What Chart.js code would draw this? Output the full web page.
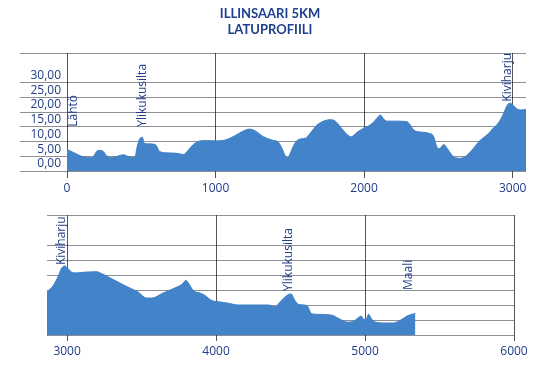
<!DOCTYPE html>
<html><head><meta charset="utf-8">
<script src="https://cdn.jsdelivr.net/npm/chart.js@4/dist/chart.umd.min.js"></script>
<style>
html,body{margin:0;padding:0;background:#fff;width:540px;height:379px;overflow:hidden}
#title{position:absolute;left:0;top:5px;width:540px;text-align:center;font:bold 13px Lato,"Open Sans",sans-serif;color:#1d3f8f;line-height:16px;z-index:2}
#c1{position:absolute;left:0;top:0}
#c2{position:absolute;left:0;top:200px}
</style></head><body>
<div id="title">ILLINSAARI 5KM<br>LATUPROFIILI</div>
<canvas id="c1" width="540" height="200" style="width:540px;height:200px"></canvas>
<canvas id="c2" width="540" height="179" style="width:540px;height:179px"></canvas>
<script>
// Distance along the track (m) and elevation (m)
const distance = [0,43,110,166,211,240,267,301,346,380,413,458,470,492,508,519,548,593,627,694,739,784,817,851,896,941,1009,1065,1132,1188,1229,1267,1323,1379,1424,1447,1469,1485,1503,1525,1559,1604,1637,1683,1727,1772,1806,1840,1885,1914,1952,1997,2035,2060,2087,2109,2132,2154,2222,2289,2311,2334,2367,2435,2469,2485,2502,2520,2536,2559,2588,2614,2648,2677,2727,2772,2839,2870,2900,2935,2965,2985,3005,3030,3060,3108,3198,3231,3309,3399,3477,3534,3567,3645,3724,3769,3798,3813,3847,3892,3925,3971,4027,4080,4150,4284,4352,4397,4431,4475,4504,4527,4554,4610,4639,4677,4778,4823,4879,4924,4953,4975,4991,5007,5024,5042,5069,5136,5192,5237,5282,5315,5338];
const elevation = [7.3,6.3,4.8,4.5,7.0,6.8,5.2,4.6,5.1,5.5,4.9,4.6,7.7,11.1,11.4,9.4,9.2,9.0,6.5,6.1,6.0,5.6,7.1,9.0,10.2,10.3,10.2,10.5,12.0,13.6,14.2,13.6,11.6,10.5,9.7,7.7,5.2,4.5,6.0,8.6,10.7,11.1,12.8,15.6,16.9,17.4,16.9,15.0,12.4,11.6,13.1,14.5,15.4,16.4,17.9,19.0,17.6,16.9,16.9,16.7,15.6,13.9,13.3,12.8,11.6,8.8,7.5,8.2,9.0,7.7,5.6,4.5,4.3,4.75,7.1,9.9,12.8,14.6,16.0,19.0,22.4,23.0,22.2,21.0,20.7,20.9,21.1,20.5,18.5,16.2,14.3,12.3,12.3,14.0,15.7,16.8,18.2,17.4,14.8,14.0,13.2,11.5,11.0,10.6,10.0,10.0,10.0,9.4,11.1,13.2,13.7,11.7,10.2,9.8,7.2,6.9,6.6,5.5,4.3,4.6,5.7,6.3,5.2,5.2,6.9,5.5,4.3,4.0,4.0,4.9,6.3,6.9,7.2];

const yTickLabels = ['0,00','5,00','10,00','15,00','20,00','25,00','30,00'];
const xTicksTop = [0,1000,2000,3000];
const xTicksBottom = [3000,4000,5000,6000];

const topMarkers = ['Lähtö','Ylikukusilta','Kiviharju'];
const topMarkerX = [47,512,2968];
const topMarkerY = [15,15,23.5];
const bottomMarkers = ['Kiviharju','Ylikukusilta','Maali'];
const bottomMarkerX = [2964,4487,5295];
const bottomMarkerY = [23.3,14.7,15];

const textColor = '#1f3c88';
const hGrid = 'rgba(30,30,45,0.5)';
const vGrid = 'rgba(20,20,25,0.72)';
const font = {family:'"Open Sans"', size:12};

const markerPlugin = {
  id:'markers',
  afterDraw(chart, args, opts){
    const {ctx} = chart; const xs = chart.scales.x, ys = chart.scales.y;
    ctx.save();
    ctx.font = '12px "Open Sans"';
    ctx.fillStyle = textColor;
    ctx.textAlign = 'left'; ctx.textBaseline = 'middle';
    opts.labels.forEach((t,i)=>{
      ctx.save();
      ctx.translate(xs.getPixelForValue(opts.xs[i]), ys.getPixelForValue(opts.ys[i]));
      ctx.rotate(-Math.PI/2);
      ctx.fillText(t,0,0);
      ctx.restore();
    });
    ctx.restore();
  }
};

const points = distance.map((d,i)=>({x:d,y:elevation[i]}));

function makeChart(id, cfg){
  return new Chart(document.getElementById(id), {
    type:'line',
    data:{datasets:[{data:points, fill:'origin', backgroundColor:'#4383c9', borderColor:'#3f7fc4', borderWidth:1, pointRadius:0, cubicInterpolationMode:'monotone'}]},
    options:{
      responsive:false, animation:false,
      layout:{padding:cfg.padding},
      plugins:{legend:{display:false}, tooltip:{enabled:false}, title:{display:false},
        markers:{labels:cfg.labels, xs:cfg.mx, ys:cfg.my}},
      scales:{
        x:{type:'linear', bounds:'data', min:cfg.xmin, max:cfg.xmax, z:1,
          afterBuildTicks(s){ s.ticks = cfg.xticks.map(v=>({value:v})); },
          ticks:{autoSkip:false, maxRotation:0, minRotation:0, color:textColor, font:font, padding:3,
            callback:(v)=> String(v)},
          grid:{color:vGrid, tickLength:cfg.xTick},
          border:{display:false},
          afterFit(s){ s.height = cfg.xh; }
        },
        y:{type:'linear', bounds:'data', min:0, max:40, z:1,
          ticks:{display:cfg.ylabels, stepSize:5, includeBounds:false, autoSkip:false, color:textColor, font:font, padding:-41, labelOffset:-7,
            callback:(v)=> (v%5===0 && v<=30) ? yTickLabels[v/5] : ''},
          grid:{color:(c)=> (c.tick && c.tick.value===35) ? 'rgba(0,0,0,0)' : hGrid, tickLength:cfg.yTick, drawTicks:cfg.yTick>0},
          border:{display:false},
          afterFit(s){ s.width = cfg.yw; }
        }
      }
    },
    plugins:[markerPlugin]
  });
}

makeChart('c1', {padding:{left:0,right:14,top:53,bottom:0}, xmin:0, xmax:3090, xticks:xTicksTop, xTick:7, xh:29, ylabels:true, yTick:47, yw:67,
  labels:topMarkers, mx:topMarkerX, my:topMarkerY});
makeChart('c2', {padding:{left:47,right:26,top:15,bottom:14}, xmin:2865, xmax:6000, xticks:xTicksBottom, xTick:6, xh:30, ylabels:false, yTick:0, yw:0,
  labels:bottomMarkers, mx:bottomMarkerX, my:bottomMarkerY});
</script>
</body></html>
